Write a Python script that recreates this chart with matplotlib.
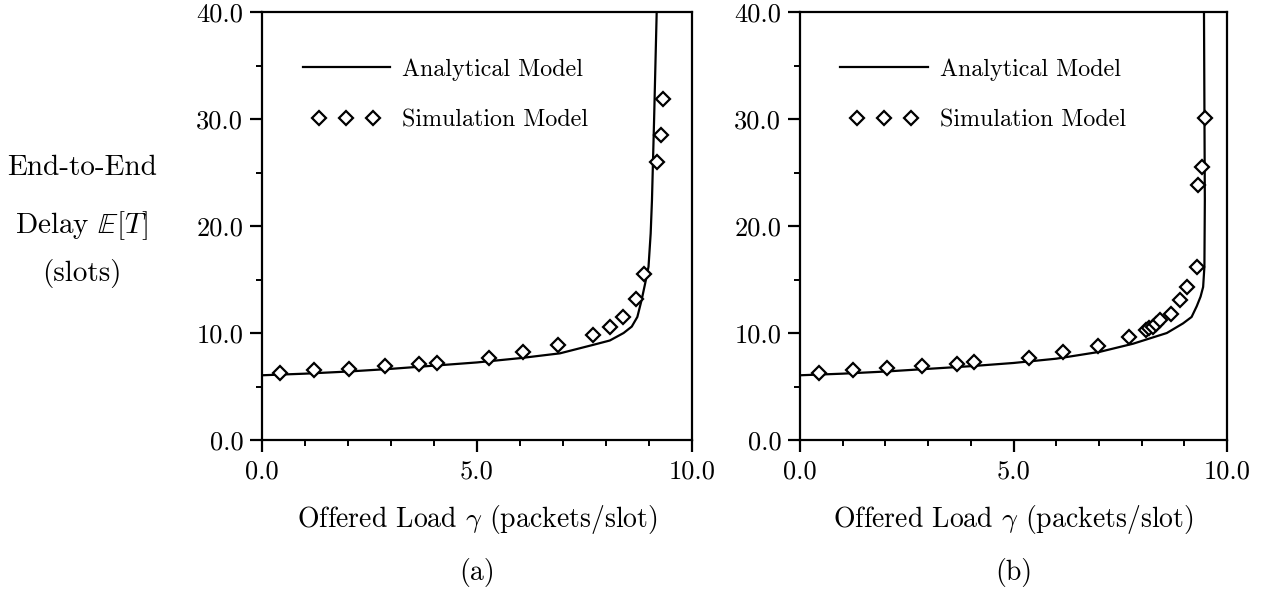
import matplotlib
matplotlib.use("Agg")
import matplotlib.pyplot as plt
from matplotlib.ticker import MultipleLocator, FormatStrFormatter
from matplotlib.legend_handler import HandlerLine2D

plt.rcParams['font.family'] = 'serif'
plt.rcParams['font.serif'] = ['cmr10', 'DejaVu Serif']
plt.rcParams['mathtext.fontset'] = 'cm'
plt.rcParams['axes.unicode_minus'] = False

# (a) analytical curve and simulation points
ana_a_x = [0.0, 1.0, 2.0, 3.0, 4.0, 5.0, 6.0, 6.93, 7.71, 8.09, 8.41, 8.60, 8.73,
           8.83, 8.91, 8.99, 9.04, 9.07, 9.12, 9.18]
ana_a_y = [6.05, 6.2, 6.4, 6.65, 6.95, 7.25, 7.65, 8.1, 8.9, 9.3, 10.0, 10.6, 11.5,
           13.1, 14.6, 16.2, 19.3, 22.4, 30.0, 40.0]
sim_a_x = [0.43, 1.22, 2.03, 2.85, 3.66, 4.07, 5.29, 6.08, 6.89, 7.71, 8.09, 8.39, 8.70, 8.88, 9.18, 9.27, 9.33]
sim_a_y = [6.3, 6.5, 6.6, 6.9, 7.1, 7.2, 7.7, 8.2, 8.9, 9.8, 10.6, 11.5, 13.2, 15.5, 26.0, 28.5, 31.9]

# (b) analytical curve and simulation points
ana_b_x = [0.0, 1.0, 2.0, 3.0, 4.0, 5.0, 6.0, 7.03, 7.8, 8.59, 8.97, 9.17, 9.29, 9.38,
           9.44, 9.47, 9.48, 9.46]
ana_b_y = [6.05, 6.2, 6.4, 6.65, 6.9, 7.2, 7.6, 8.25, 9.0, 10.0, 10.9, 11.5, 12.5, 13.4,
           14.3, 16.2, 22.4, 40.0]
sim_b_x = [0.44, 1.24, 2.04, 2.86, 3.68, 4.07, 5.36, 6.16, 6.98, 7.71, 8.10, 8.18, 8.26,
           8.34, 8.43, 8.68, 8.89, 9.07, 9.29, 9.33, 9.41, 9.49]
sim_b_y = [6.3, 6.5, 6.7, 6.9, 7.1, 7.3, 7.7, 8.2, 8.8, 9.65, 10.3, 10.45, 10.6,
           10.8, 11.2, 11.8, 13.1, 14.3, 16.2, 23.8, 25.5, 30.1]

panels = [
    ("(a)", ana_a_x, ana_a_y, sim_a_x, sim_a_y, [0.2066, 0.2642, 0.3391, 0.7157]),
    ("(b)", ana_b_x, ana_b_y, sim_b_x, sim_b_y, [0.6309, 0.2642, 0.3368, 0.7157]),
]

fig = plt.figure(figsize=(12.68, 5.98), dpi=100)

for tag, ax_x, ax_y, sx, sy, rect in panels:
    ax = fig.add_axes(rect)
    ana_line, = ax.plot(ax_x, ax_y, color='black', lw=1.6, label='Analytical Model')
    sim_pts, = ax.plot(sx, sy, ls='none', marker='D', ms=7.4, mfc='white', mec='black',
                       mew=1.6, label='Simulation Model', clip_on=False)
    ax.set_xlim(0, 10)
    ax.set_ylim(0, 40)
    ax.xaxis.set_major_locator(MultipleLocator(5))
    ax.xaxis.set_minor_locator(MultipleLocator(1))
    ax.yaxis.set_major_locator(MultipleLocator(10))
    ax.yaxis.set_minor_locator(MultipleLocator(5))
    ax.xaxis.set_major_formatter(FormatStrFormatter('%.1f'))
    ax.yaxis.set_major_formatter(FormatStrFormatter('%.1f'))
    ax.tick_params(which='major', direction='out', length=8.5, width=1.6,
                   labelsize=19)
    ax.tick_params(axis='x', which='major', pad=6)
    ax.tick_params(axis='y', which='major', pad=5)
    ax.tick_params(which='minor', direction='out', length=4.5, width=1.4)
    for sp in ax.spines.values():
        sp.set_linewidth(1.6)
    ax.set_xlabel(r'Offered Load $\gamma$ (packets/slot)', fontsize=20)
    ax.xaxis.set_label_coords(0.5, -0.1846)
    ax.xaxis.label.set_va('center')
    ax.text(0.5, -0.3084, tag, transform=ax.transAxes, ha='center', va='center', fontsize=20)
    ax.legend(loc='upper left', bbox_to_anchor=(0.072, 0.915), frameon=False,
              fontsize=17.3, numpoints=3, handlelength=3.65, handletextpad=0.5,
              labelspacing=1.2, borderaxespad=0,
              handler_map={ana_line: HandlerLine2D(marker_pad=0.0),
                           sim_pts: HandlerLine2D(marker_pad=0.7)})

fig.text(0.0647, 0.719, 'End-to-End', ha='center', va='center', fontsize=21)
fig.text(0.0647, 0.623, r'Delay $\mathbb{E}[T]$', ha='center', va='center', fontsize=21)
fig.text(0.0647, 0.543, '(slots)', ha='center', va='center', fontsize=21)

fig.savefig('out.png', dpi=100)
